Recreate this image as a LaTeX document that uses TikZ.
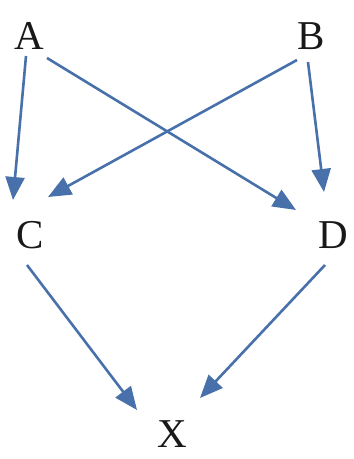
\documentclass[tikz,border=0pt]{standalone}
\usepackage{fontspec}
\setmainfont{Liberation Serif}
\usetikzlibrary{arrows.meta}
\definecolor{arrblue}{RGB}{72,112,170}
\begin{document}
\begin{tikzpicture}[x=1pt,y=-1pt,
  lbl/.style={inner sep=0pt,font=\fontsize{41}{41}\selectfont,text=black!90},
  arr/.style={draw=arrblue,line width=2.6pt,-{Triangle[length=23pt,width=19pt]},fill=arrblue}]
\useasboundingbox (0,0) rectangle (354,459);
\node[lbl] (A) at (29,36) {A};
\node[lbl] (B) at (311,36) {B};
\node[lbl] (C) at (30,235) {C};
\node[lbl] (D) at (333,235) {D};
\node[lbl] (X) at (172,434) {X};
\draw[arr] ([shift={(-3,20)}]A.center) -- ([shift={(-17,-35)}]C.center);
\draw[arr] ([shift={(18,22)}]A.center) -- ([shift={(-37,-25)}]D.center);
\draw[arr] ([shift={(-14,24)}]B.center) -- ([shift={(18,-38)}]C.center);
\draw[arr] ([shift={(-3,26)}]B.center) -- ([shift={(-9,-43)}]D.center);
\draw[arr] ([shift={(-3,30)}]C.center) -- ([shift={(-35,-24)}]X.center);
\draw[arr] ([shift={(-8,30)}]D.center) -- ([shift={(28,-36)}]X.center);
\end{tikzpicture}
\end{document}
